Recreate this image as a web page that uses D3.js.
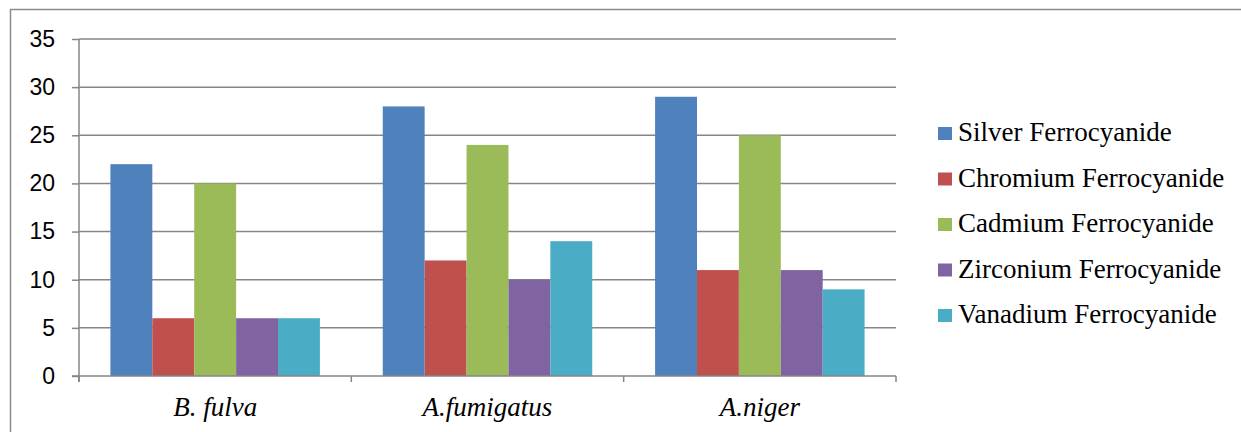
<!DOCTYPE html>
<html>
<head>
<meta charset="utf-8">
<script src="https://cdn.jsdelivr.net/npm/d3@7"></script>
<style>
    body { margin: 0; background: #fff; }
    svg { display: block; }
    .serif { font-family: "Liberation Serif", Tinos, "Times New Roman", Times, "DejaVu Serif", serif; }
    .sans { font-family: "Liberation Sans", Arimo, Arial, sans-serif; }
</style>
</head>
<body>
<div id="chart"></div>
<script>
// chart data
const categories = ["B. fulva", "A.fumigatus", "A.niger"];
const seriesNames = ["Silver Ferrocyanide", "Chromium Ferrocyanide", "Cadmium Ferrocyanide", "Zirconium Ferrocyanide", "Vanadium Ferrocyanide"];
const silver = [22, 28, 29];
const chromium = [6, 12, 11];
const cadmium = [20, 24, 25];
const zirconium = [6, 10, 11];
const vanadium = [6, 14, 9];
const yTicks = [0, 5, 10, 15, 20, 25, 30, 35];

const seriesValues = [silver, chromium, cadmium, zirconium, vanadium];
const colors = ["#4F81BD", "#C0504D", "#9BBB59", "#8064A2", "#4BACC6"];

const W = 1241, H = 432;
const margin = { top: 39, left: 79 };
const width = 896 - 79;
const height = 376 - 39;

let svg = d3.select("#chart").append("svg")
    .attr("width", W)
    .attr("height", H);

// outer frame of the chart box
svg.append("path")
    .attr("d", "M10.5," + H + " V9.5 H" + W)
    .attr("fill", "none")
    .attr("stroke", "#8c8c8c")
    .attr("stroke-width", 1.5);

let g = svg.append("g")
    .attr("transform", "translate(" + margin.left + "," + margin.top + ")");

let x0 = d3.scaleBand()
    .domain(categories)
    .range([0, width]);

// excel style: 150% gap width -> bars take 5/6.5 of the category
let x1 = d3.scaleBand()
    .domain(d3.range(seriesNames.length))
    .range([0, x0.bandwidth() * 5 / 6.5]);

let y = d3.scaleLinear()
    .domain([0, 35])
    .range([height, 0]);

// gridlines
g.selectAll(".grid")
    .data(yTicks.filter(d => d > 0))
    .enter()
    .append("line")
    .attr("class", "grid")
    .attr("x1", 0)
    .attr("x2", width)
    .attr("y1", d => y(d))
    .attr("y2", d => y(d))
    .attr("stroke", "#868686")
    .attr("stroke-width", 1.5);

// bars
let offset = (x0.bandwidth() - x1.range()[1]) / 2;
let groups = g.selectAll(".cat")
    .data(categories)
    .enter()
    .append("g")
    .attr("class", "cat")
    .attr("transform", d => "translate(" + (x0(d) + offset) + ",0)");

groups.selectAll("rect")
    .data((d, i) => seriesValues.map((s, j) => ({ s: j, v: s[i] })))
    .enter()
    .append("rect")
    .attr("x", d => x1(d.s))
    .attr("y", d => y(d.v))
    .attr("width", x1.bandwidth())
    .attr("height", d => height - y(d.v))
    .attr("fill", d => colors[d.s]);

// y axis
let yAxis = d3.axisLeft(y)
    .tickValues(yTicks)
    .tickSize(7)
    .tickPadding(17);
let ya = g.append("g")
    .attr("class", "y-axis")
    .call(yAxis);
ya.attr("font-family", null).attr("font-size", null);
ya.select(".domain").remove();
ya.selectAll("line").attr("stroke", "#868686").attr("stroke-width", 1.5);
ya.selectAll("text")
    .attr("class", "sans")
    .style("font-size", "23px")
    .attr("fill", "#000");
ya.append("line")
    .attr("x1", 0).attr("x2", 0)
    .attr("y1", 0).attr("y2", height + 6)
    .attr("stroke", "#868686")
    .attr("stroke-width", 1.5);

// x axis with ticks on category boundaries
let xa = g.append("g")
    .attr("class", "x-axis")
    .attr("transform", "translate(0," + height + ")");
xa.append("line")
    .attr("x1", -7).attr("x2", width)
    .attr("stroke", "#868686")
    .attr("stroke-width", 1.5);
xa.selectAll(".tick-mark")
    .data(categories.concat(["end"]))
    .enter()
    .append("line")
    .attr("x1", (d, i) => i * x0.step())
    .attr("x2", (d, i) => i * x0.step())
    .attr("y1", 0)
    .attr("y2", 6)
    .attr("stroke", "#868686")
    .attr("stroke-width", 1.5);
xa.selectAll("text")
    .data(categories)
    .enter()
    .append("text")
    .attr("class", "serif")
    .attr("x", d => x0(d) + x0.bandwidth() / 2)
    .attr("y", 40)
    .attr("text-anchor", "middle")
    .style("font-style", "italic")
    .style("font-size", "27px")
    .attr("fill", "#000")
    .text(d => d);

// legend
let legend = svg.append("g")
    .attr("class", "legend")
    .attr("transform", "translate(938,141)");
let items = legend.selectAll("g")
    .data(seriesNames)
    .enter()
    .append("g")
    .attr("transform", (d, i) => "translate(0," + (i * 45.5) + ")");
items.append("rect")
    .attr("x", 0)
    .attr("y", -14)
    .attr("width", 14)
    .attr("height", 13)
    .attr("fill", (d, i) => colors[i]);
items.append("text")
    .attr("class", "serif")
    .attr("x", 20)
    .attr("y", 0)
    .style("font-size", "27px")
    .attr("fill", "#000")
    .text(d => d);
</script>
</body>
</html>
